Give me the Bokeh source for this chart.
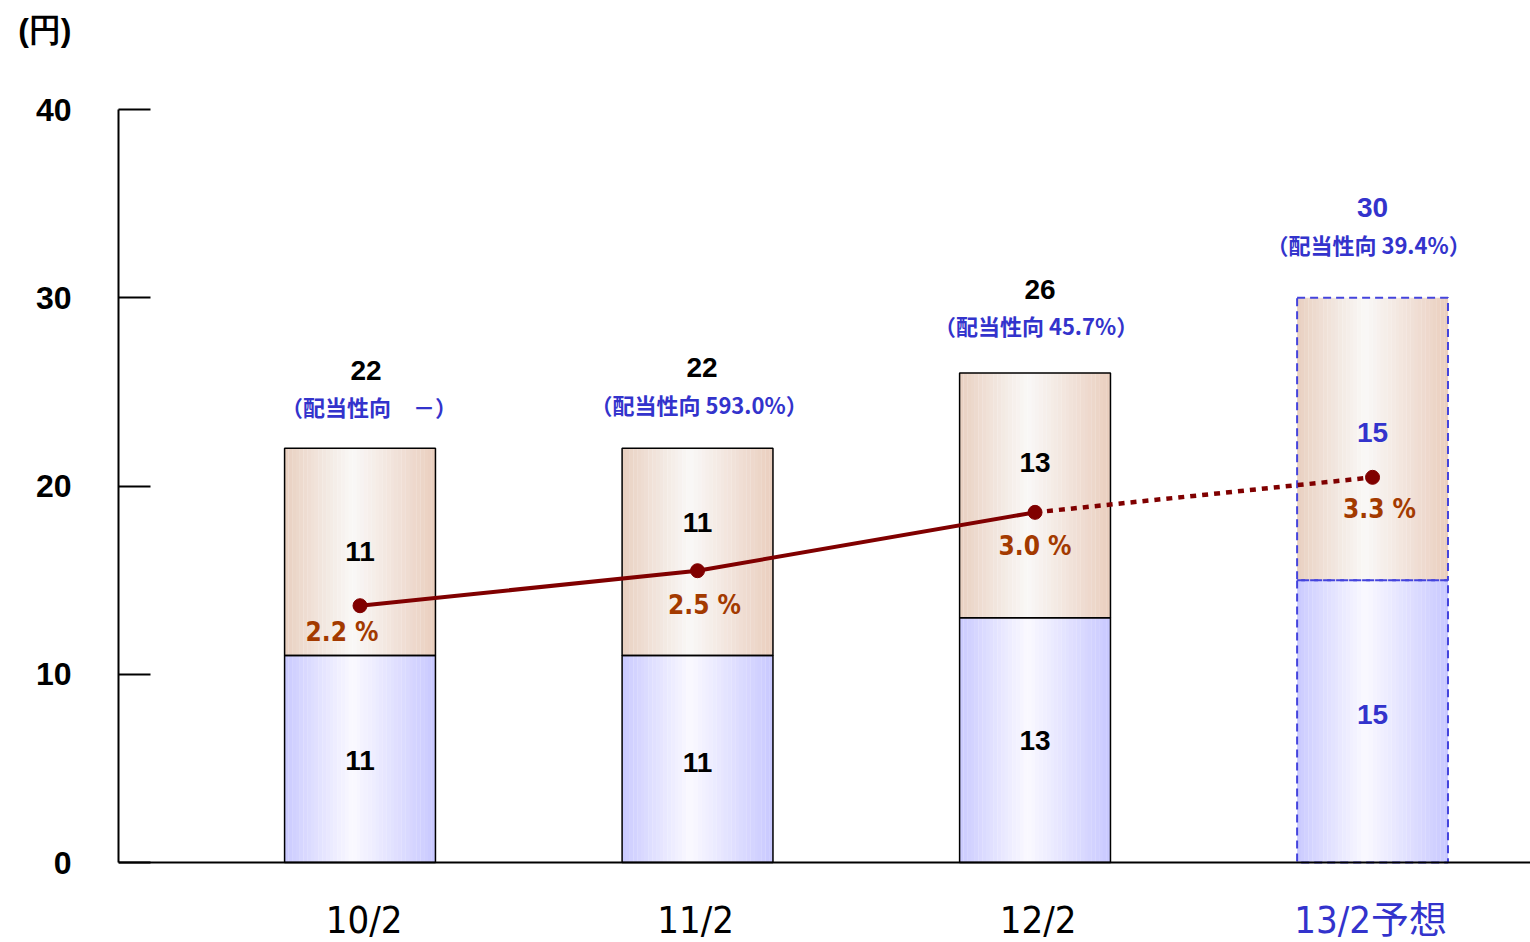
from bokeh.plotting import figure
from bokeh.models import Range1d, FixedTicker, ColumnDataSource, Span, LinearAxis
from bokeh.core.properties import value
from bokeh.embed import file_html
from bokeh.resources import INLINE

# ---------------- data ----------------
periods = ["10/2", "11/2", "12/2", "13/2予想"]
interim = [11, 11, 13, 15]          # lower segment
year_end = [11, 11, 13, 15]         # upper segment
totals = [22, 22, 26, 30]
payout_labels = ["（配当性向　－）", "（配当性向 593.0%）", "（配当性向 45.7%）", "（配当性向 39.4%）"]
yields = [2.2, 2.5, 3.0, 3.3]
yield_labels = ["2.2 %", "2.5 %", "3.0 %", "3.3 %"]
y_ticks = [0, 10, 20, 30, 40]
unit_label = "(円)"

# ---------------- style ----------------
BLUE_TXT = "#3333cc"
LINE_RED = "#800000"
PCT_COL = "#a33a00"
NUM_FONT = value("Liberation Sans")
COND = value("'DejaVu Sans Condensed', 'Noto Sans CJK JP'")
CJK = value("Noto Sans CJK JP")
PX = 40 / 753.0            # data units per pixel (y)
XPX = 1 / 337.5            # data units per pixel (x)
BAR_W = 0.447
YIELD_SCALE = 6.2
Y_START = -80 * PX
Y_END = 40 + 109 * PX
UNIT_POS = 44.2            # where the unit caption sits on the value scale

p = figure(width=1530, height=942, x_range=Range1d(-0.7156, 3.468), y_range=Range1d(Y_START, Y_END),
           output_backend="svg", toolbar_location=None, x_axis_location=None,
           min_border_left=118, min_border_right=0, min_border_top=0, min_border_bottom=0)
p.extra_y_ranges = {"yield": Range1d(Y_START / YIELD_SCALE, Y_END / YIELD_SCALE)}
p.grid.visible = False
p.outline_line_color = None
p.background_fill_color = "white"

# y axis line only between 0 and 40
p.yaxis.bounds = (0, 40)
p.yaxis.ticker = FixedTicker(ticks=[], minor_ticks=[])
p.yaxis.major_tick_out = 0
p.yaxis.major_tick_in = 0
p.yaxis.minor_tick_line_color = None
p.yaxis.axis_line_width = 2
p.yaxis.major_label_standoff = 0

# ticks and labels of the value scale (plus the unit caption above it)
lab_axis = LinearAxis(bounds=(0, 45),
                      ticker=FixedTicker(ticks=y_ticks + [UNIT_POS], minor_ticks=y_ticks),
                      major_label_overrides={UNIT_POS: unit_label},
                      axis_line_color=None, major_tick_line_color=None,
                      major_tick_in=0, major_tick_out=0,
                      minor_tick_in=32, minor_tick_out=0, minor_tick_line_width=2,
                      minor_tick_line_color="black",
                      major_label_standoff=47, major_label_text_font="Liberation Sans",
                      major_label_text_font_style="bold", major_label_text_font_size="32px",
                      major_label_text_color="black")
p.add_layout(lab_axis, "left")

# x baseline at value 0
p.add_layout(Span(location=0, dimension="width", line_color="black", line_width=2))

xs = list(range(len(periods)))

# gradient fills (horizontal) made of thin strips
def lerp(c1, c2, t):
    return "#%02x%02x%02x" % tuple(int(round(a + (b - a) * t)) for a, b in zip(c1, c2))

def grad_color(edge_l, mid, edge_r, t, tm=0.45):
    if t <= tm:
        return lerp(edge_l, mid, t / tm)
    return lerp(mid, edge_r, (t - tm) / (1 - tm))

N = 40
strips = dict(left=[], right=[], bottom=[], top=[], color=[])
for i, x in enumerate(xs):
    l0 = x - BAR_W / 2
    for seg_b, seg_t, el, mid, er in [
        (0, interim[i], (202, 202, 255), (250, 249, 255), (200, 200, 255)),
        (interim[i], interim[i] + year_end[i], (233, 208, 192), (249, 248, 247), (234, 206, 190)),
    ]:
        for k in range(N):
            t = (k + 0.5) / N
            strips["left"].append(l0 + BAR_W * k / N)
            strips["right"].append(l0 + BAR_W * (k + 1) / N + 0.0005)
            strips["bottom"].append(seg_b)
            strips["top"].append(seg_t)
            strips["color"].append(grad_color(el, mid, er, t))
p.quad(left="left", right="right", bottom="bottom", top="top", source=ColumnDataSource(strips),
       fill_color="color", line_color=None)

# outlines
for i, x in enumerate(xs):
    dashed = i == len(xs) - 1
    kw = dict(fill_color=None, line_color="#4444dd" if dashed else "black",
              line_width=2 if dashed else 1.5, line_dash="8 5" if dashed else "solid")
    p.quad(left=[x - BAR_W / 2] * 2, right=[x + BAR_W / 2] * 2,
           bottom=[0, interim[i]], top=[interim[i], interim[i] + year_end[i]], **kw)

# yield line
p.line(xs[:3], yields[:3], y_range_name="yield", line_color=LINE_RED, line_width=4)
p.line(xs[2:], yields[2:], y_range_name="yield", line_color=LINE_RED, line_width=4.5, line_dash="6 6")
p.scatter(xs, yields, y_range_name="yield", size=14, fill_color=LINE_RED, line_color=LINE_RED)

# segment labels
low_off = [-2, -3.5, 0, 7]
up_off = [0, 29, 33, 6]
seg_cols = ["black", "black", "black", BLUE_TXT]
p.text(x=xs, y=[v / 2 + o * PX for v, o in zip(interim, low_off)], text=[str(v) for v in interim],
       text_font=NUM_FONT, text_font_style="bold", text_font_size="28px", text_color=seg_cols,
       text_align="center", text_baseline="middle")
p.text(x=xs, y=[a + b / 2 + o * PX for a, b, o in zip(interim, year_end, up_off)],
       text=[str(v) for v in year_end],
       text_font=NUM_FONT, text_font_style="bold", text_font_size="28px", text_color=seg_cols,
       text_align="center", text_baseline="middle")

# totals and payout ratios
tot_off = [78, 81, 84, 90]
pay_off = [42, 44, 48, 54]
tot_dx = [6, 4.5, 5, 0]
pay_dx = [9, 1.5, 1, -4]
p.text(x=[x + d * XPX for x, d in zip(xs, tot_dx)], y=[t + o * PX for t, o in zip(totals, tot_off)],
       text=[str(t) for t in totals],
       text_font=NUM_FONT, text_font_style="bold", text_font_size="28px", text_color=seg_cols,
       text_align="center", text_baseline="middle")
p.text(x=[x + d * XPX for x, d in zip(xs, pay_dx)], y=[t + o * PX for t, o in zip(totals, pay_off)],
       text=payout_labels,
       text_font=CJK, text_font_style="bold", text_font_size="22px", text_color=BLUE_TXT,
       text_align="center", text_baseline="middle")

# yield labels
pct_dx = [-18, 7, 0, 7]
pct_dy = [26, 34, 34, 32]
p.text(x=[x + d * XPX for x, d in zip(xs, pct_dx)],
       y=[v * YIELD_SCALE - d * PX for v, d in zip(yields, pct_dy)],
       text=yield_labels, text_font=COND, text_font_style="bold", text_font_size="26px",
       text_color=PCT_COL, text_align="center", text_baseline="middle")

# category labels under the baseline
p.text(x=[x + d * XPX for x, d in zip(xs, [4, -2, 3, -2])], y=[-57 * PX] * len(xs), text=periods,
       text_font=COND, text_font_size="38px", text_color=["black", "black", "black", BLUE_TXT],
       text_align="center", text_baseline="middle")

open("out.html", "w").write(file_html(p, INLINE))
